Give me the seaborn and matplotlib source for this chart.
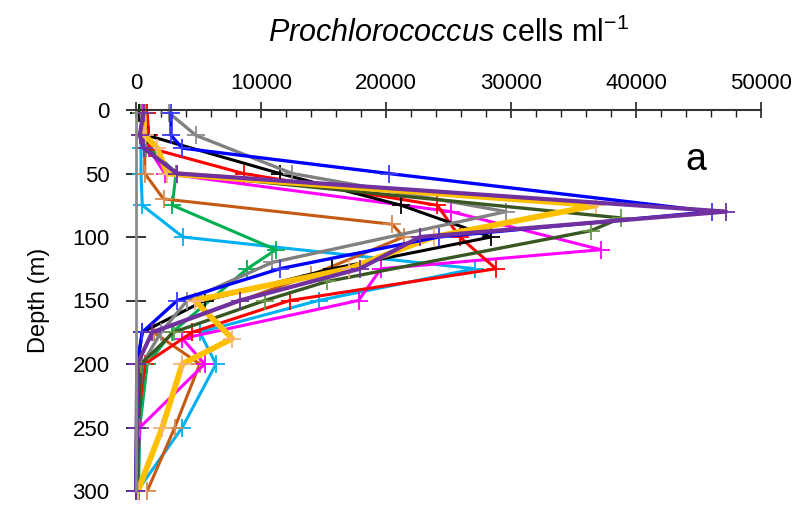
import numpy as np
import pandas as pd
import matplotlib
matplotlib.use("Agg")
import matplotlib.pyplot as plt
import seaborn as sns
from matplotlib.ticker import MultipleLocator

sns.set_theme(style="white")
plt.rcParams['font.family'] = ['Liberation Sans', 'DejaVu Sans']
plt.rcParams['mathtext.fontset'] = 'custom'
plt.rcParams['mathtext.rm'] = 'Liberation Sans'
plt.rcParams['mathtext.it'] = 'Liberation Sans:italic'
plt.rcParams['text.color'] = 'black'
plt.rcParams['axes.labelcolor'] = 'black'
plt.rcParams['xtick.color'] = 'black'
plt.rcParams['ytick.color'] = 'black'

# ---- data (cells ml-1 vs depth m), one small array per profile ----
cyan_depth = [2, 20, 30, 50, 75, 100, 125, 150, 175, 200, 250, 300]
cyan_cells = [500, 400, 400, 400, 500, 3750, 27100, 14600, 5100, 6400, 3700, 100]

green_depth = [2, 20, 30, 50, 75, 110, 125, 175, 200, 250, 300]
green_cells = [800, 900, 1200, 3200, 2900, 11200, 8900, 2900, 900, 300, 200]

brown_depth = [2, 20, 30, 50, 70, 90, 100, 130, 175, 200, 250, 300]
brown_cells = [800, 700, 700, 700, 2200, 20500, 21400, 14000, 1400, 5100, 3100, 900]

magenta_depth = [2, 20, 30, 50, 80, 110, 125, 150, 180, 200, 250, 300]
magenta_cells = [500, 600, 1000, 2300, 25200, 37200, 19600, 17800, 3700, 5500, 300, 0]

red_depth = [2, 20, 30, 50, 75, 100, 125, 150, 175, 200, 250, 300]
red_cells = [900, 1000, 1100, 8600, 24100, 25900, 28800, 12300, 4500, 700, 100, 0]

black_depth = [2, 20, 50, 75, 100, 125, 150, 175, 200, 250, 300]
black_cells = [200, 900, 11500, 21200, 28400, 15700, 5500, 500, 100, 50, 0]

grey_depth = [2, 20, 50, 80, 120, 150, 175, 200, 250, 300]
grey_cells = [2600, 4800, 12500, 29600, 10900, 4100, 2000, 500, 100, 50]

dkgreen_depth = [2, 20, 30, 50, 85, 95, 135, 150, 175, 200, 250, 300]
dkgreen_cells = [400, 500, 800, 3200, 38800, 36400, 15300, 10300, 3000, 400, 200, 100]

orange_depth = [2, 20, 30, 50, 75, 100, 125, 150, 180, 200, 250, 300]
orange_cells = [600, 700, 1700, 2500, 36800, 23800, 17000, 4700, 7700, 3700, 2100, 150]

blue_depth = [2, 20, 30, 50, 80, 100, 125, 150, 175, 200, 250, 300]
blue_cells = [2800, 2800, 3700, 20200, 46100, 24200, 11500, 3300, 500, 100, 50, 0]

purple_depth = [2, 20, 30, 50, 80, 100, 125, 150, 175, 200, 250, 300]
purple_cells = [600, 300, 600, 3300, 47200, 22700, 17900, 8300, 1300, 100, 50, 0]

x_ticks = [0, 10000, 20000, 30000, 40000, 50000]
y_ticks = [0, 50, 100, 150, 200, 250, 300]

profiles = [
    ("cyan", cyan_depth, cyan_cells, "#00B0F0", "#00B0F0", 2.2),
    ("green", green_depth, green_cells, "#00B050", "#00B050", 2.2),
    ("brown", brown_depth, brown_cells, "#C55A11", "#D9894F", 2.2),
    ("magenta", magenta_depth, magenta_cells, "#FF00FF", "#FF00FF", 2.2),
    ("red", red_depth, red_cells, "#FF0000", "#FF0000", 2.2),
    ("black", black_depth, black_cells, "#000000", "#000000", 2.2),
    ("grey", grey_depth, grey_cells, "#808080", "#8C8C8C", 2.4),
    ("dkgreen", dkgreen_depth, dkgreen_cells, "#385723", "#6A9A4A", 2.4),
    ("orange", orange_depth, orange_cells, "#FFC000", "#F4B183", 4.2),
    ("blue", blue_depth, blue_cells, "#0000FF", "#3A3AFF", 2.4),
    ("purple", purple_depth, purple_cells, "#7030A0", "#7030A0", 3.0),
]

fig = plt.figure(figsize=(8.02, 5.09), dpi=100)
ax = fig.add_axes([136 / 802, 1 - 491 / 509, (761 - 136) / 802, (491 - 110) / 509])

for name, d, c, lc, mc, lw in profiles:
    df = pd.DataFrame({"cells": c, "depth": d})
    sns.lineplot(data=df, x="cells", y="depth", sort=False, estimator=None,
                 color=lc, lw=lw, marker="+", markersize=13, mew=1.3,
                 markeredgecolor=mc, ax=ax, clip_on=False)

ax.set_xlim(0, 50000)
ax.set_ylim(300, 0)
ax.xaxis.tick_top()
ax.xaxis.set_label_position("top")
ax.set_xticks(x_ticks)
ax.set_xticklabels([str(v) for v in x_ticks])
ax.xaxis.set_minor_locator(MultipleLocator(2000))
ax.set_yticks(y_ticks)
ax.set_yticklabels([str(v) for v in y_ticks])

ax.tick_params(axis="x", which="major", direction="inout", length=11, width=1.2,
               color="#222222", labelsize=16, pad=6, top=True, bottom=False)
ax.tick_params(axis="x", which="minor", direction="in", length=5, width=1.0,
               color="#222222", top=True, bottom=False)
ax.tick_params(axis="y", which="major", direction="inout", length=14, width=1.2,
               color="#111111", labelsize=16, pad=12, left=True)

for s in ["right", "bottom"]:
    ax.spines[s].set_visible(False)
ax.spines["top"].set_color("#333333")
ax.spines["top"].set_linewidth(1.5)
ax.spines["left"].set_color("#8A8A8A")
ax.spines["left"].set_linewidth(2.0)

ax.set_xlabel(r"$\it{Prochlorococcus}$ cells ml$^{\mathrm{-1}}$", fontsize=22, labelpad=22)
ax.set_ylabel("Depth (m)", fontsize=17, labelpad=16)
ax.grid(False)

ax.text(44800, 39, "a", fontsize=27, ha="center", va="center")

fig.savefig("out.png", dpi=100)
